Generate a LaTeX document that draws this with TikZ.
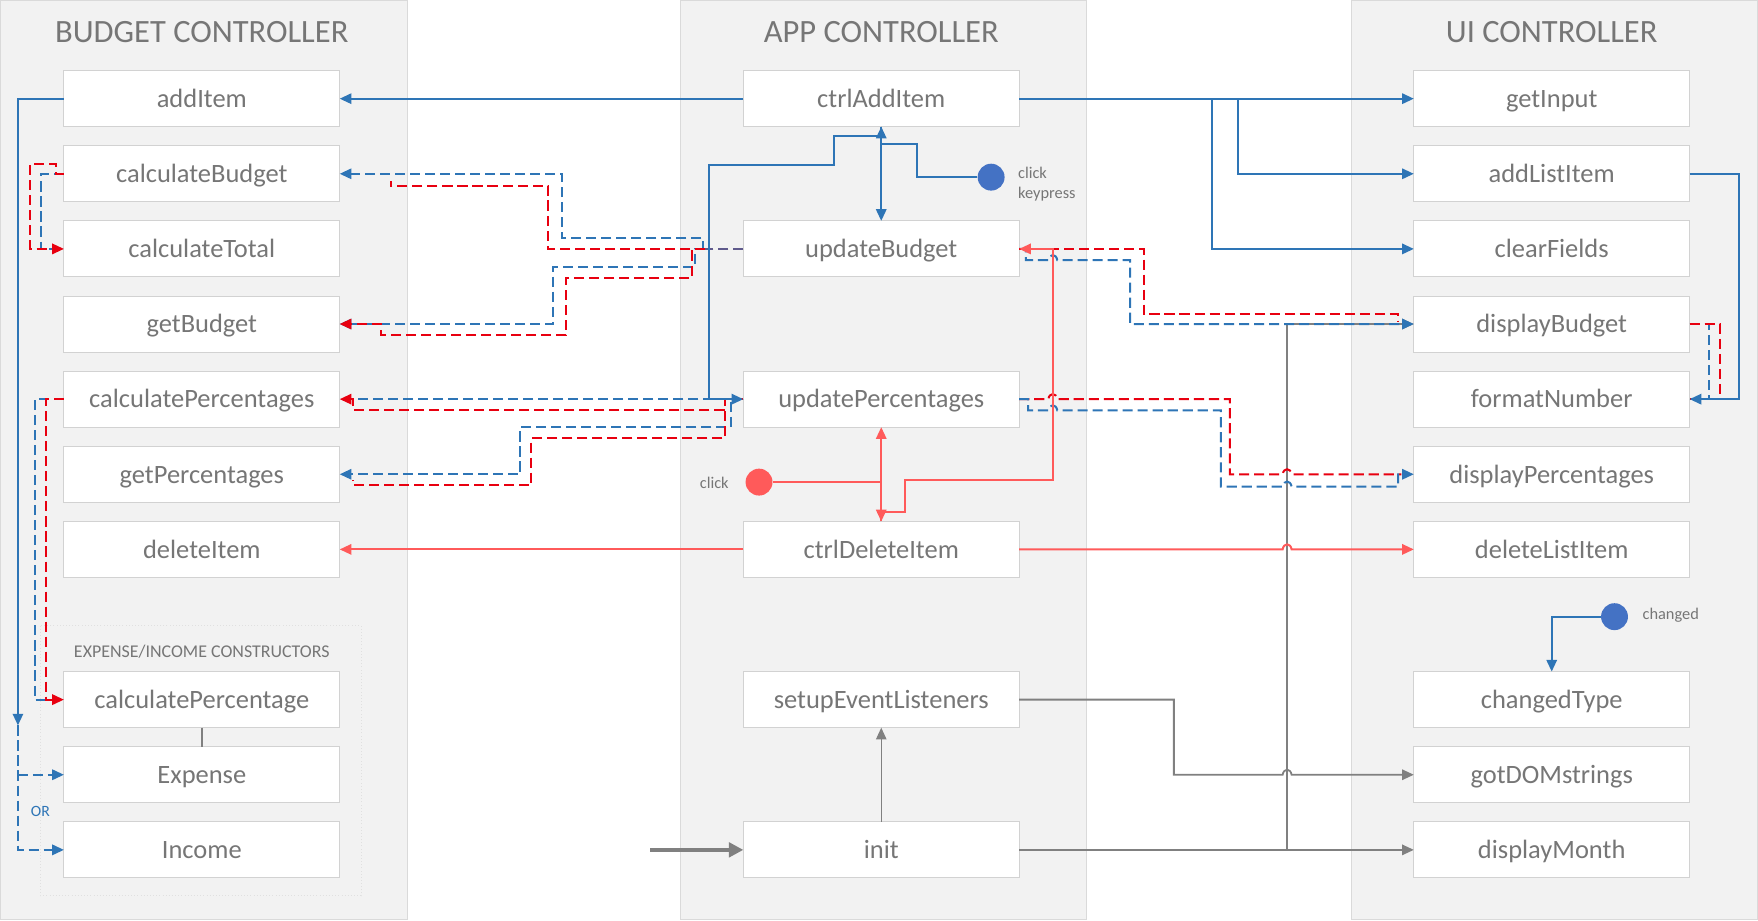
\documentclass[tikz,border=0pt]{standalone}
\usepackage{fontspec}
\setmainfont{Carlito}
\usetikzlibrary{positioning}
\usetikzlibrary{arrows.meta}

\definecolor{panelbg}{RGB}{242,242,242}
\definecolor{panelline}{RGB}{218,218,218}
\definecolor{boxline}{RGB}{210,210,210}
\definecolor{txtgray}{RGB}{118,118,118}
\definecolor{lineblue}{RGB}{46,117,182}
\definecolor{evtblue}{RGB}{68,114,196}
\definecolor{dashred}{RGB}{232,0,16}
\definecolor{linered}{RGB}{255,90,90}
\definecolor{linegray}{RGB}{128,128,128}
\definecolor{mixline}{RGB}{95,90,140}

\tikzset{
  fn/.style={draw=boxline, fill=white, minimum width=123pt, minimum height=25pt,
    inner sep=0pt, outer sep=0pt, text height=9.8pt, text depth=2pt,
    text=txtgray, font=\fontsize{11.8}{14}\selectfont},
  ctrltitle/.style={text=txtgray, font=\fontsize{14.5}{17}\selectfont},
  note/.style={text=txtgray, align=left, font=\fontsize{7.3}{9}\selectfont},
  evt/.style={circle, minimum size=12pt, inner sep=0pt},
  bluel/.style={draw=lineblue, line width=0.9pt},
  blued/.style={bluel, dash pattern=on 4.5pt off 2.2pt},
  redl/.style={draw=linered, line width=0.9pt},
  redd/.style={draw=dashred, line width=0.9pt, dash pattern=on 4.5pt off 2.2pt},
  mixd/.style={draw=mixline, line width=0.9pt, dash pattern=on 4.5pt off 2.2pt},
  grayl/.style={draw=linegray, line width=0.8pt},
}

\begin{document}
\begin{tikzpicture}[x=0.5pt, y=-0.5pt, >={Triangle[length=5.2pt,width=4.6pt]}]
\useasboundingbox (0,0) rectangle (1568,821);
% controller panels
\fill[panelbg, draw=panelline] (0.5,0.5) rectangle (363,820.5);
\fill[panelbg, draw=panelline] (607,0.5) rectangle (969,820.5);
\fill[panelbg, draw=panelline] (1205,0.5) rectangle (1567.5,820.5);
\draw[black!12, densely dotted] (36,558) rectangle (322,799);
\node[ctrltitle] (budgetT) at (180,29) {BUDGET CONTROLLER};
\node[ctrltitle] (appT) at (786,29) {APP CONTROLLER};
\node[ctrltitle] (uiT) at (1384,29) {UI CONTROLLER};
\node[text=txtgray, font=\fontsize{8}{10}\selectfont] (consT) at (180,581) {EXPENSE/INCOME CONSTRUCTORS};

% budget controller
\node[fn] (addItem) at (180,88) {addItem};
\node[fn, below=8.5pt of addItem] (calculateBudget) {calculateBudget};
\node[fn, below=8.5pt of calculateBudget] (calculateTotal) {calculateTotal};
\node[fn, below=8.5pt of calculateTotal] (getBudget) {getBudget};
\node[fn, below=8.5pt of getBudget] (calculatePercentages) {calculatePercentages};
\node[fn, below=8.5pt of calculatePercentages] (getPercentages) {getPercentages};
\node[fn, below=8.5pt of getPercentages] (deleteItem) {deleteItem};
\node[fn] (calculatePercentage) at (180,624) {calculatePercentage};
\node[fn, below=8.5pt of calculatePercentage] (Expense) {Expense};
\node[fn, below=8.5pt of Expense] (Income) {Income};

% app controller
\node[fn] (ctrlAddItem) at (786,88) {ctrlAddItem};
\node[fn, below=42pt of ctrlAddItem] (updateBudget) {updateBudget};
\node[fn, below=42pt of updateBudget] (updatePercentages) {updatePercentages};
\node[fn, below=42pt of updatePercentages] (ctrlDeleteItem) {ctrlDeleteItem};
\node[fn] (setupEventListeners) at (786,624) {setupEventListeners};
\node[fn, below=42pt of setupEventListeners] (init) {init};

% ui controller
\node[fn] (getInput) at (1384,88) {getInput};
\node[fn, below=8.5pt of getInput] (addListItem) {addListItem};
\node[fn, below=8.5pt of addListItem] (clearFields) {clearFields};
\node[fn, below=8.5pt of clearFields] (displayBudget) {displayBudget};
\node[fn, below=8.5pt of displayBudget] (formatNumber) {formatNumber};
\node[fn, below=8.5pt of formatNumber] (displayPercentages) {displayPercentages};
\node[fn, below=8.5pt of displayPercentages] (deleteListItem) {deleteListItem};
\node[fn] (changedType) at (1384,624) {changedType};
\node[fn, below=8.5pt of changedType] (gotDOMstrings) {gotDOMstrings};
\node[fn, below=8.5pt of gotDOMstrings] (displayMonth) {displayMonth};

% events
\node[evt, fill=evtblue] (clickAdd) at (884,158) {};
\node[note, anchor=west] (clickAddLbl) at (901,164) {click\\keypress};
\node[evt, fill=linered] (clickDel) at (677,430) {};
\node[note, anchor=east] (clickDelLbl) at (657,431) {click};
\node[evt, fill=evtblue] (changedEvt) at (1440,550) {};
\node[note, anchor=west] (changedLbl) at (1458,549) {changed};
\node[note, text=lineblue, font=\fontsize{7}{9}\selectfont] (orLbl) at (36,724) {OR};

% init
\coordinate (start) at (580,758);
\draw[grayl,->] (init.east) -- (1148,758) -- (1148,289) -- (displayBudget.west);
\draw[grayl,->] (init.east) -- (displayMonth.west);
\draw[grayl,->] (setupEventListeners.east) -- (1047,624) |- (1144,691)
  .. controls (1145,685) and (1151,685) .. (1152,691) -- (gotDOMstrings.west);
\draw[grayl, line width=0.6pt, ->] (init.north) -- (setupEventListeners.south);
\draw[linegray, line width=1.6pt, -{Triangle[length=6.5pt,width=6.5pt]}] (start) -- (init.west);
\draw[grayl] (calculatePercentage.south) -- (Expense.north);

% updateBudget / updatePercentages, budget side
\coordinate (ubj) at (629,222);
\draw[blued,->] (ubj) -- (627,222) -- (627,212) -| (501,155) -- (calculateBudget.east);
\draw[blued,->] (ubj) -- (620,222) -- (620,238) -| (493,289) -- (getBudget.east);
\draw[redd] (ubj) -| (489,166) -- (349,166) -- (349,161);
\draw[redd,->] (ubj) -- (617,222) -- (617,248) -| (505,299) -- (340,299) -- (340,289) -- (getBudget.east);
\draw[mixd] (updateBudget.west) -- (ubj);
\draw[blued] (updatePercentages.west) -- (calculatePercentages.east);
\draw[blued,->] (updatePercentages.west) -- (652,356) -- (652,381) -| (464,423) -- (getPercentages.east);
\draw[redd,->] (updatePercentages.west) -- (647,356) -- (647,366) -- (315,366) -- (315,356) -- (calculatePercentages.east);
\draw[redd] (updatePercentages.west) -- (647,356) -- (647,391) -| (474,433) -- (315,433) -- (315,428);

% updateBudget / updatePercentages, ui side
\draw[blued,->] (updateBudget.east) -- (915,222) -- (915,232) -- (935,232)
  .. controls (936,226) and (942,226) .. (943,232) -- (1008,232) |- (displayBudget.west);
\draw[redd] (updateBudget.east) -- (1020,222) |- (1247,280) -- (1247,287);
\draw[redd] (updatePercentages.east) -- (935,356) .. controls (936,350) and (942,350) .. (943,356)
  -- (1097,356) |- (1144,423) .. controls (1145,417) and (1151,417) .. (1152,423) -- (1250,423);
\draw[blued,->] (updatePercentages.east) -- (917,356) -- (917,366) -- (935,366)
  .. controls (936,360) and (942,360) .. (943,366) -- (1089,366) |- (1144,434)
  .. controls (1145,428) and (1151,428) .. (1152,434) -- (1247,434) -- (1247,423) -- (displayPercentages.west);
\draw[blued] (displayBudget.east) -- (1524,289) |- (formatNumber.east);
\draw[redd] (displayBudget.east) -- (1534,289) |- (formatNumber.east);

% inside budget controller
\draw[blued] (calculateBudget.west) -- (37,155) |- (calculateTotal.west);
\draw[redd,->] (calculateBudget.west) -- (50,155) -- (50,146) -- (27,146) |- (calculateTotal.west);
\draw[blued] (calculatePercentages.west) -- (31,356) |- (calculatePercentage.west);
\draw[redd,->] (calculatePercentages.west) -- (41,356) |- (calculatePercentage.west);
\coordinate (orSplit) at (16,647);
\coordinate (orExp) at (16,691);
\draw[bluel,->] (addItem.west) -- (16,88) -- (orSplit);
\draw[blued,->] (orSplit) |- (Income.west);
\draw[blued,->] (orExp) -- (Expense.west);

% ctrlAddItem
\draw[bluel,->] (ctrlAddItem.west) -- (addItem.east);
\draw[bluel,->] (ctrlAddItem.east) -- (getInput.west);
\draw[bluel,->] (ctrlAddItem.east) -- (1104,88) |- (addListItem.west);
\draw[bluel,->] (ctrlAddItem.east) -- (1081,88) |- (clearFields.west);
\draw[bluel,->] (clickAdd) -- (818,158) -- (818,128) -| (ctrlAddItem.south);
\draw[bluel,->] (ctrlAddItem.south) -- (updateBudget.north);
\draw[bluel,->] (ctrlAddItem.south) -- (786,121) -- (744,121) -- (744,147) -- (632,147) |- (updatePercentages.west);
\draw[bluel,->] (addListItem.east) -- (1551,155) |- (formatNumber.east);
\draw[bluel,->] (changedEvt) -| (changedType.north);

% ctrlDeleteItem
\draw[redl,->] (ctrlDeleteItem.west) -- (deleteItem.east);
\draw[redl,->] (ctrlDeleteItem.east) -- (1144,490) .. controls (1145,484) and (1151,484) .. (1152,490) -- (deleteListItem.west);
\draw[redl,->] (clickDel) -| (ctrlDeleteItem.north);
\draw[redl,->] (ctrlDeleteItem.north) -- (updatePercentages.south);
\draw[redl,->] (ctrlDeleteItem.north) -- (786,457) -- (807,457) -- (807,428) -- (939,428) -- (939,222) -- (updateBudget.east);
\end{tikzpicture}
\end{document}
